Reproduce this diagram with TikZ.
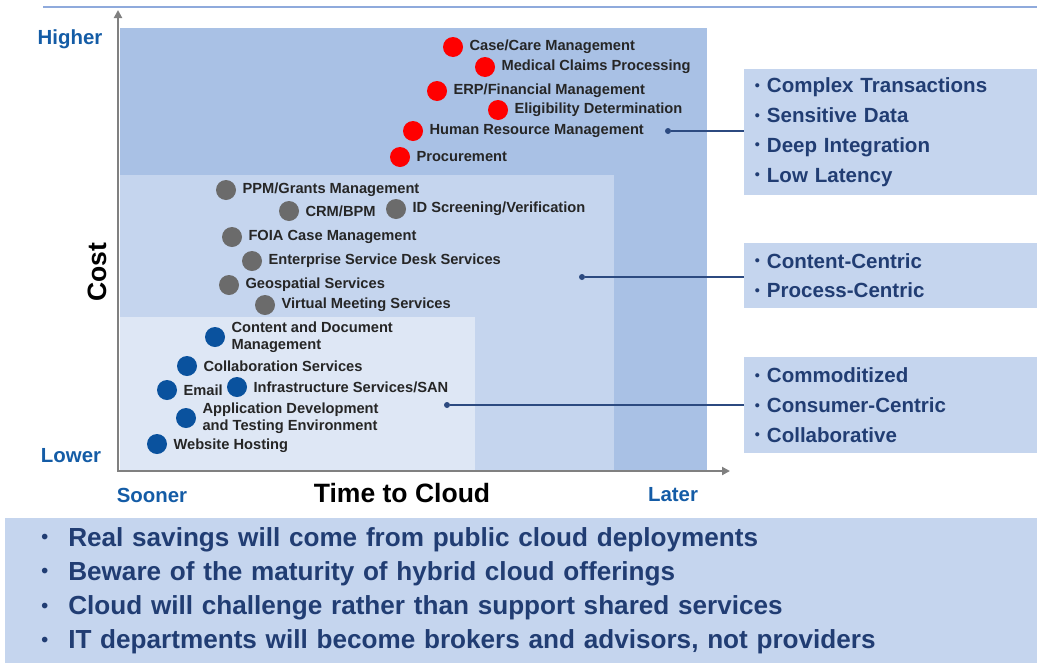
\documentclass[tikz,border=0pt]{standalone}
\usepackage{fontspec}
\setmainfont{Liberation Sans}
\usepackage{tikz}
\usetikzlibrary{arrows.meta}
\usetikzlibrary{positioning}
\definecolor{regHigh}{HTML}{A9C1E5}
\definecolor{regMid}{HTML}{C5D5EE}
\definecolor{regLow}{HTML}{DEE7F5}
\definecolor{navy}{HTML}{213D73}
\definecolor{axblue}{HTML}{145CA6}
\definecolor{dotRed}{HTML}{FF0000}
\definecolor{dotGray}{HTML}{6B6B6B}
\definecolor{dotBlue}{HTML}{0A529E}
\definecolor{linkc}{HTML}{2C4A80}
\definecolor{axgray}{HTML}{808080}
\definecolor{topc}{HTML}{8FAADC}
\tikzstyle{svc} = [circle, minimum size=15pt, inner sep=0pt]
\tikzstyle{svcred} = [svc, fill=dotRed]
\tikzstyle{svcgray} = [svc, fill=dotGray]
\tikzstyle{svcblue} = [svc, fill=dotBlue]
\tikzstyle{lbl} = [inner sep=0pt, font=\fontsize{11}{12.75}\selectfont\bfseries, text=black!85, align=left]
\tikzstyle{axlbl} = [inner sep=0pt, font=\fontsize{15.3}{18}\selectfont\bfseries, text=axblue]
\tikzstyle{axtitle} = [inner sep=0pt, font=\fontsize{19.9}{23}\selectfont\bfseries, text=black]
\tikzstyle{axis} = [axgray, line width=1.8pt, {Triangle[length=6pt,width=6pt]}-{Triangle[length=6pt,width=6pt]}]
\tikzstyle{trait} = [anchor=north west, fill=regMid, inner xsep=8pt, inner ysep=0pt, text width=204.25pt, align=left, text=navy, font=\fontsize{15.4}{22.3}\selectfont\bfseries]
\tikzstyle{linkend} = [circle, fill=linkc, minimum size=4.5pt, inner sep=0pt]
\tikzstyle{link} = [linkc, line width=1.5pt]
\tikzstyle{summary} = [anchor=north west, fill=regMid, inner xsep=27pt, inner ysep=0pt, text width=720pt, minimum height=108.75pt, align=left, text=navy, font=\fontsize{19.6}{25.7}\selectfont\bfseries]
\newcommand{\bul}{\makebox[20.25pt][l]{\raisebox{0.1em}{\scalebox{0.75}{•}}}}
\newcommand{\tbul}{\makebox[9pt][l]{\raisebox{0.12em}{\scalebox{0.7}{•}}}}

\begin{document}
\begin{tikzpicture}[x=0.75pt, y=-0.75pt]
\useasboundingbox (0,0) rectangle (1037,664);
\draw[topc, line width=1pt] (43,7) -- (1037,7);
% regions
\fill[regHigh] (120,28) rectangle (707,470);
\fill[regMid] (120,175) rectangle (614,470);
\fill[regLow] (120,317) rectangle (475,470);
% axes
\coordinate (ytip) at (118,10);
\coordinate (orig) at (118,471);
\coordinate (xtip) at (730,471);
\draw[axis] (ytip) -- (orig) -- (xtip);
\node (higher) [axlbl, anchor=base] at (70,44) {Higher};
\node (lower) [axlbl, anchor=base] at (71,462) {Lower};
\node (sooner) [axlbl, anchor=base] at (152,502) {Sooner};
\node (later) [axlbl, anchor=base] at (673,501) {Later};
\node (time) [axtitle, anchor=base] at (402,502) {Time to Cloud};
\node (cost) [axtitle, rotate=90] at (97,272) {Cost};
% red services
\node (case) [svcred] at (453,47) {};
\node (caseT) [lbl, right=4.5pt of case] {Case/Care Management};
\node (claims) [svcred] at (485,67) {};
\node (claimsT) [lbl, right=4.5pt of claims] {Medical Claims Processing};
\node (erp) [svcred] at (437,91) {};
\node (erpT) [lbl, right=4.5pt of erp] {ERP/Financial Management};
\node (elig) [svcred] at (498,110) {};
\node (eligT) [lbl, right=4.5pt of elig] {Eligibility Determination};
\node (hr) [svcred] at (413,131) {};
\node (hrT) [lbl, right=4.5pt of hr] {Human Resource Management};
\node (proc) [svcred] at (400,157) {};
\node (procT) [lbl, right=4.5pt of proc] {Procurement};
% gray services
\node (ppm) [svcgray] at (226,190) {};
\node (ppmT) [lbl, right=4.5pt of ppm] {PPM/Grants Management};
\node (crm) [svcgray] at (289,211) {};
\node (crmT) [lbl, right=4.5pt of crm] {CRM/BPM};
\node (idscr) [svcgray] at (396,209) {};
\node (idscrT) [lbl, right=4.5pt of idscr] {ID Screening/Verification};
\node (foia) [svcgray] at (232,237) {};
\node (foiaT) [lbl, right=4.5pt of foia] {FOIA Case Management};
\node (esd) [svcgray] at (252,261) {};
\node (esdT) [lbl, right=4.5pt of esd] {Enterprise Service Desk Services};
\node (geo) [svcgray] at (229,285) {};
\node (geoT) [lbl, right=4.5pt of geo] {Geospatial Services};
\node (vms) [svcgray] at (265,305) {};
\node (vmsT) [lbl, right=4.5pt of vms] {Virtual Meeting Services};
% blue services
\node (cdm) [svcblue] at (215,337) {};
\node (cdmT) [lbl, right=4.5pt of cdm] {Content and Document\\Management};
\node (collab) [svcblue] at (187,366) {};
\node (collabT) [lbl, right=4.5pt of collab] {Collaboration Services};
\node (email) [svcblue] at (167,390) {};
\node (emailT) [lbl, right=4.5pt of email] {Email};
\node (infra) [svcblue] at (237,387) {};
\node (infraT) [lbl, right=4.5pt of infra] {Infrastructure Services/SAN};
\node (appdev) [svcblue] at (186,418) {};
\node (appdevT) [lbl, right=4.5pt of appdev] {Application Development\\and Testing Environment};
\node (web) [svcblue] at (157,444) {};
\node (webT) [lbl, right=4.5pt of web, yshift=-1.5pt] {Website Hosting};
% traits
\node (boxA) [trait, minimum height=94.5pt] at (744,69) {\tbul Complex Transactions\\\tbul Sensitive Data\\\tbul Deep Integration\\\tbul Low Latency};
\node (boxB) [trait, minimum height=48.75pt] at (744,243) {\tbul Content-Centric\\\tbul Process-Centric};
\node (boxC) [trait, minimum height=72pt] at (744,357) {\tbul Commoditized\\\tbul Consumer-Centric\\\tbul Collaborative};
\node (linkA) [linkend] at (668,131) {};
\node (linkB) [linkend] at (582,277) {};
\node (linkC) [linkend] at (447,405) {};
\draw[link] (linkA) -- (linkA -| boxA.west);
\draw[link] (linkB) -- (linkB -| boxB.west);
\draw[link] (linkC) -- (linkC -| boxC.west);
% summary
\node (notes) [summary] at (5,518) {\bul Real savings will come from public cloud deployments\\\bul Beware of the maturity of hybrid cloud offerings\\\bul Cloud will challenge rather than support shared services\\\bul IT departments will become brokers and advisors, not providers};
\end{tikzpicture}
\end{document}
